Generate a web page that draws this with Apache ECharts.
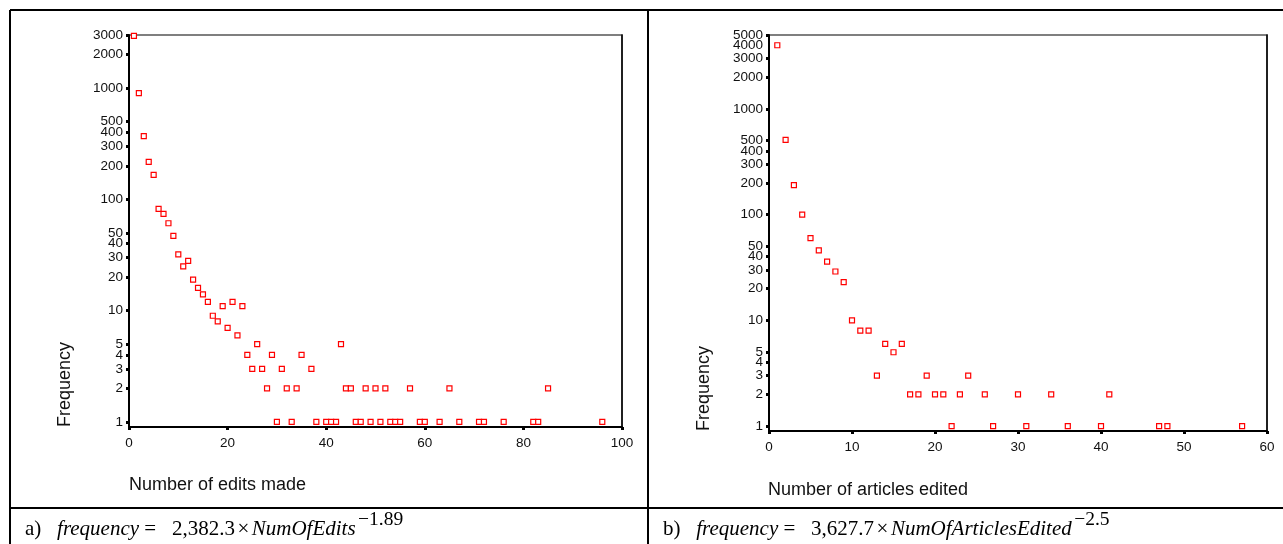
<!DOCTYPE html>
<html><head><meta charset="utf-8">
<script src="https://cdn.jsdelivr.net/npm/echarts@6/dist/echarts.min.js"></script>
<style>html,body{margin:0;padding:0;background:#fff}#c{width:1283px;height:544px}</style>
</head><body><div id="c"></div>
<script>
// Panel a) number of edits made vs frequency
const editsX = [1,2,3,4,5,6,7,8,9,10,11,12,13,14,15,16,17,18,19,20,21,22,23,24,25,26,27,28,29,30,31,32,33,34,35,37,38,40,41,42,43,44,45,46,47,48,49,50,51,52,53,54,55,57,59,60,63,65,67,71,72,76,82,83,85,96];
const editsFreq = [2950,900,370,217,166,82,74,61,47,32,25,28,19,16,14,12,9,8,11,7,12,6,11,4,3,5,3,2,4,1,3,2,1,2,4,3,1,1,1,1,5,2,2,1,1,2,1,2,1,2,1,1,1,2,1,1,1,2,1,1,1,1,1,1,2,1];
// Panel b) number of articles edited vs frequency
const articlesX = [1,2,3,4,5,6,7,8,9,10,11,12,13,14,15,16,17,18,19,20,21,22,23,24,26,27,30,31,34,36,40,41,47,48,57];
const articlesFreq = [4000,510,190,100,60,46,36,29,23,10,8,8,3,6,5,6,2,2,3,2,2,1,2,3,2,1,2,1,2,1,1,2,1,1,1];
// tick labels
const yTicksLeft = [1,2,3,4,5,10,20,30,40,50,100,200,300,400,500,1000,2000,3000];
const yTicksRight = [1,2,3,4,5,10,20,30,40,50,100,200,300,400,500,1000,2000,3000,4000,5000];
const yTicksRightExtra = [4000];
const xTicksLeft = [0,20,40,60,80,100];
const xTicksRight = [0,10,20,30,40,50,60];
const captionA = {lead:'a)', lhs:'frequency', coef:'2,382.3', vname:'NumOfEdits', expo:'\u22121.89'};
const captionB = {lead:'b)', lhs:'frequency', coef:'3,627.7', vname:'NumOfArticlesEdited', expo:'\u22122.5'};

const SANS = 'Liberation Sans, Arial, sans-serif';
const SERIF = 'Liberation Serif, Times New Roman, serif';
const chart = echarts.init(document.getElementById('c'), null, {renderer:'canvas'});
const fmt = v => String(Math.round(v));

function xAxisCfg(idx, max, interval, ticks){
  return {type:'value', gridIndex:idx, min:0, max:max, interval:interval,
    axisLine:{show:true, onZero:false, lineStyle:{color:'#000', width:2}},
    axisTick:{show:true, length:3, inside:false, lineStyle:{color:'#000', width:3}, customValues:ticks},
    axisLabel:{color:'#111', fontSize:13.5, fontFamily:SANS, margin:9, customValues:ticks, formatter:fmt, showMinLabel:true, showMaxLabel:true},
    splitLine:{show:false}};
}
function yAxisCfg(idx, max, ticks){
  return {type:'log', logBase:10, gridIndex:idx, min:0.9, max:max,
    axisLine:{show:true, lineStyle:{color:'#000', width:2}},
    axisTick:{show:true, length:3, lineStyle:{color:'#000', width:3}, customValues:ticks},
    axisLabel:{color:'#111', fontSize:13.5, fontFamily:SANS, margin:6, customValues:ticks, formatter:fmt, hideOverlap:false, showMinLabel:true, showMaxLabel:true},
    minorTick:{show:false}, splitLine:{show:false}};
}
function yExtraLabelCfg(idx, max, ticks){
  return {type:'log', logBase:10, gridIndex:idx, min:0.9, max:max, position:'left', offset:0,
    axisLine:{show:false}, axisTick:{show:false},
    axisLabel:{color:'#111', fontSize:13.5, fontFamily:SANS, margin:6, customValues:ticks, formatter:fmt},
    minorTick:{show:false}, splitLine:{show:false}};
}
function yRightCfg(idx, max){
  return {type:'log', logBase:10, gridIndex:idx, min:0.9, max:max, position:'right',
    axisLine:{show:true, lineStyle:{color:'#000', width:1.5}},
    axisTick:{show:false}, axisLabel:{show:false}, splitLine:{show:false}};
}
function scatter(xi, yi, xs, ys){
  return {type:'scatter', xAxisIndex:xi, yAxisIndex:yi, symbol:'rect', symbolSize:5,
    itemStyle:{color:'#fff', borderColor:'#ff0000', borderWidth:1.2, opacity:1},
    emphasis:{disabled:true}, data: xs.map((x,i)=>[x, ys[i]])};
}
function captionText(c){
  return '{n|' + c.lead + '}{n|   }{i|' + c.lhs + '}{n| =   ' + c.coef + '}{sp| }{n|\u00d7}{sp| }{i|' + c.vname + '}{sp| }{s|' + c.expo + '}';
}
const richCap = {
  n:{fontFamily:SERIF, fontSize:21, color:'#000', lineHeight:30, verticalAlign:'bottom'},
  sp:{fontFamily:SERIF, fontSize:10, color:'#000', lineHeight:30, verticalAlign:'bottom'},
  i:{fontFamily:SERIF, fontSize:21, fontStyle:'italic', color:'#000', lineHeight:30, verticalAlign:'bottom'},
  s:{fontFamily:SERIF, fontSize:19.5, color:'#000', lineHeight:19, verticalAlign:'top'}
};
function line(x1,y1,x2,y2){
  return {type:'line', silent:true, shape:{x1:x1,y1:y1,x2:x2,y2:y2}, style:{stroke:'#000', lineWidth:2}};
}

chart.setOption({
  backgroundColor:'#fff',
  animation:false,
  grid:[
    {left:129, top:35, width:493, height:392, show:true, borderColor:'#555', borderWidth:1.5, containLabel:false},
    {left:769, top:35, width:498, height:396, show:true, borderColor:'#555', borderWidth:1.5, containLabel:false}
  ],
  xAxis:[xAxisCfg(0,100,20,xTicksLeft), xAxisCfg(1,60,10,xTicksRight)],
  yAxis:[yAxisCfg(0,3000,yTicksLeft), yAxisCfg(1,5000,yTicksRight), yRightCfg(0,3000), yRightCfg(1,5000), yExtraLabelCfg(1,5000,yTicksRightExtra)],
  series:[scatter(0,0,editsX,editsFreq), scatter(1,1,articlesX,articlesFreq)],
  graphic:[
    line(10,10,1283,10), line(10,10,10,544), line(648,10,648,544), line(10,508,1283,508),
    {type:'text', left:129, top:476, style:{text:'Number of edits made', font:'18px '+SANS, fill:'#111'}},
    {type:'text', left:768, top:481, style:{text:'Number of articles edited', font:'18px '+SANS, fill:'#111'}},
    {type:'text', x:65, y:427, rotation:Math.PI/2, style:{text:'Frequency', font:'18px '+SANS, fill:'#111', align:'left', verticalAlign:'middle'}},
    {type:'text', x:704, y:431, rotation:Math.PI/2, style:{text:'Frequency', font:'18px '+SANS, fill:'#111', align:'left', verticalAlign:'middle'}},
    {type:'text', x:25, y:525, style:{text:captionText(captionA), rich:richCap, align:'left', verticalAlign:'middle'}},
    {type:'text', x:663, y:525, style:{text:captionText(captionB), rich:richCap, align:'left', verticalAlign:'middle'}}
  ]
});
</script></body></html>
